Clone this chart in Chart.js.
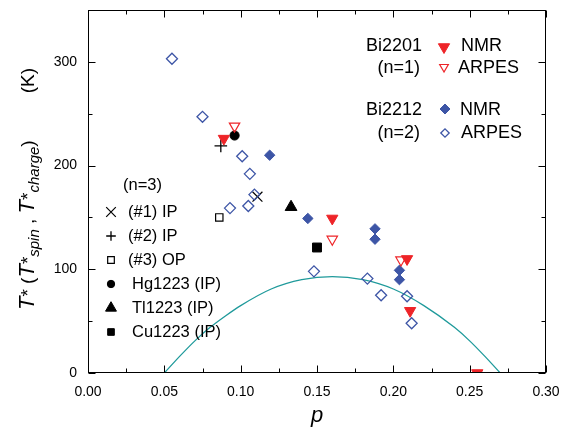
<!DOCTYPE html>
<html>
<head>
<meta charset="utf-8">
<script src="https://cdn.jsdelivr.net/npm/chart.js@4.4.0/dist/chart.umd.min.js"></script>
<style>
  html, body { margin: 0; padding: 0; background: #fff; }
</style>
</head>
<body>
<canvas id="myChart" width="565" height="429"></canvas>
<script>
// doping p vs pseudogap temperature T* (K)
const bi2201NmrP   = [0.089, 0.160, 0.209, 0.211, 0.255];
const bi2201NmrT   = [226, 149, 110, 60, 0];
const bi2201ArpesP = [0.096, 0.160, 0.205];
const bi2201ArpesT = [238, 129, 109];

const bi2212NmrP   = [0.119, 0.144, 0.188, 0.188, 0.204, 0.204];
const bi2212NmrT   = [210, 149, 139, 129, 99, 90];
const bi2212ArpesP = [0.055, 0.075, 0.093, 0.101, 0.105, 0.106, 0.109, 0.148, 0.183, 0.192, 0.209, 0.212];
const bi2212ArpesT = [303, 247, 159, 209, 161, 192, 172, 98, 91, 75, 74, 48];

// n=3 compounds
const ip1P = [0.111],  ip1T = [170];
const ip2P = [0.087],  ip2T = [219];
const op3P = [0.086],  op3T = [150];
const hgP  = [0.096],  hgT  = [229];
const tlP  = [0.133],  tlT  = [160];
const cuP  = [0.150],  cuT  = [121];

// Tc dome
const domeP = [0.05, 0.06, 0.07, 0.08, 0.09, 0.10, 0.12, 0.14, 0.16, 0.18, 0.20, 0.22, 0.24, 0.25, 0.26, 0.27];
const domeT = [0, 16, 31, 44, 55, 65, 81, 90, 93, 90, 81, 65, 44, 31, 16, 0];

const xTicks = [0, 0.05, 0.10, 0.15, 0.20, 0.25, 0.30];
const xMinor = [0.025, 0.075, 0.125, 0.175, 0.225, 0.275];
const yTicks = [0, 100, 200, 300];
const yMinor = [50, 150, 250];

const RED = '#ee2428';
const BLUE = '#3d55a6';
const TEAL = '#1f9a9b';

const pts = (xs, ys) => xs.map((x, i) => ({x: x, y: ys[i]}));

Chart.defaults.font.family = '"Liberation Sans", Arial, sans-serif';
Chart.defaults.color = '#000';

function marker(ctx, style, x, y, r, fill, stroke, lw, rot) {
  ctx.save();
  ctx.fillStyle = fill || 'rgba(0,0,0,0)';
  ctx.strokeStyle = stroke;
  ctx.lineWidth = lw;
  Chart.helpers.drawPoint(ctx, {pointStyle: style, radius: r, rotation: rot || 0, borderWidth: lw}, x, y);
  ctx.restore();
}

const framePlugin = {
  id: 'frame',
  afterDatasetsDraw(chart) {
    const {ctx, chartArea: a, scales: {x, y}} = chart;
    const L = Math.round(a.left) + 0.5, R = Math.round(a.right) - 0.5;
    const T = Math.round(a.top) + 0.5, B = Math.round(a.bottom) - 0.5;
    ctx.save();
    ctx.strokeStyle = '#000';
    ctx.lineWidth = 1;
    ctx.strokeRect(L, T, R - L, B - T);
    ctx.beginPath();
    const xt = (v, len) => {
      const px = Math.round(x.getPixelForValue(v)) + 0.5;
      ctx.moveTo(px, B); ctx.lineTo(px, B - len);
      ctx.moveTo(px, T); ctx.lineTo(px, T + len);
    };
    const yt = (v, len) => {
      const py = Math.round(y.getPixelForValue(v)) + 0.5;
      ctx.moveTo(L, py); ctx.lineTo(L + len, py);
      ctx.moveTo(R, py); ctx.lineTo(R - len, py);
    };
    xTicks.forEach(v => xt(v, 7));
    xMinor.forEach(v => xt(v, 4));
    yTicks.forEach(v => yt(v, 7));
    yMinor.forEach(v => yt(v, 4));
    ctx.stroke();
    ctx.restore();
  },
  afterDraw(chart) {
    const ctx = chart.ctx;
    ctx.save();
    ctx.fillStyle = '#000';
    ctx.textBaseline = 'middle';

    // Bi2201 / Bi2212 key
    ctx.font = '18px "Liberation Sans", Arial, sans-serif';
    ctx.textAlign = 'right';
    ctx.fillText('Bi2201', 422, 46);
    ctx.fillText('(n=1)', 420, 68);
    ctx.fillText('Bi2212', 422, 110);
    ctx.fillText('(n=2)', 420, 133);
    ctx.textAlign = 'left';
    ctx.fillText('NMR', 461, 46);
    ctx.fillText('ARPES', 458, 68);
    ctx.fillText('NMR', 460, 110);
    ctx.fillText('ARPES', 461, 133);
    marker(ctx, 'triangle', 444, 47, 6.5, RED, RED, 1, 180);
    marker(ctx, 'triangle', 444, 67, 5, null, RED, 1.2, 180);
    marker(ctx, 'rectRot', 445, 109, 5, BLUE, BLUE, 1);
    marker(ctx, 'rectRot', 445, 133, 4.2, null, BLUE, 1.3);

    // n=3 key
    ctx.font = '16.5px "Liberation Sans", Arial, sans-serif';
    ctx.fillText('(n=3)', 123, 185);
    const rows = [
      ['(#1) IP', 128, 'crossRot', 6.8, null, 1.2],
      ['(#2) IP', 128, 'cross', 4.8, null, 1.3],
      ['(#3) OP', 128, 'rect', 4.7, null, 1.2],
      ['Hg1223 (IP)', 132, 'circle', 3.7, '#000', 1],
      ['Tl1223 (IP)', 132, 'triangle', 6.3, '#000', 1],
      ['Cu1223 (IP)', 132, 'rect', 4.7, '#000', 1]
    ];
    rows.forEach((r, i) => {
      const yy = 212 + i * 24;
      ctx.fillText(r[0], r[1], yy);
      marker(ctx, r[2], 111, yy, r[3], r[4], '#000', r[5]);
    });

    // axis titles
    ctx.font = 'italic 22px "Liberation Sans", Arial, sans-serif';
    ctx.textAlign = 'center';
    ctx.textBaseline = 'alphabetic';
    const ca = chart.chartArea;
    ctx.fillText('p', (ca.left + ca.right) / 2, 422);

    ctx.translate(33.5, 310);
    ctx.rotate(-Math.PI / 2);
    ctx.textAlign = 'left';
    const big = 'italic 22px "Liberation Sans", Arial, sans-serif';
    const reg = '19px "Liberation Sans", Arial, sans-serif';
    const sub = 'italic 15px "Liberation Sans", Arial, sans-serif';
    const segs = [
      ['T', big, 0], ['*', reg, 0], [' (', reg, 0],
      ['T', big, 0], ['*', reg, 0], ['spin', sub, 5], [' , ', reg, 0],
      ['T', big, 0], ['*', reg, 0], ['charge', sub, 5], [')', reg, 0]
    ];
    let cx = 0;
    segs.forEach(s => {
      ctx.font = s[1];
      ctx.fillText(s[0], cx, s[2]);
      cx += ctx.measureText(s[0]).width;
    });
    ctx.font = reg;
    ctx.textAlign = 'right';
    ctx.fillText('(K)', 242, 0);
    ctx.restore();
  }
};

new Chart(document.getElementById('myChart'), {
  type: 'scatter',
  data: {
    datasets: [
      {
        label: 'Bi2201 NMR', data: pts(bi2201NmrP, bi2201NmrT),
        pointStyle: 'triangle', rotation: 180, pointRadius: 6.5,
        backgroundColor: RED, borderColor: RED, borderWidth: 1, clip: 0, order: 1
      }, {
        label: 'Bi2201 ARPES', data: pts(bi2201ArpesP, bi2201ArpesT),
        pointStyle: 'triangle', rotation: 180, pointRadius: 6,
        backgroundColor: 'rgba(0,0,0,0)', borderColor: RED, borderWidth: 1.2, clip: 0, order: 1
      }, {
        label: 'Bi2212 NMR', data: pts(bi2212NmrP, bi2212NmrT),
        pointStyle: 'rectRot', pointRadius: 5.2,
        backgroundColor: BLUE, borderColor: BLUE, borderWidth: 1, clip: 0, order: 1
      }, {
        label: 'Bi2212 ARPES', data: pts(bi2212ArpesP, bi2212ArpesT),
        pointStyle: 'rectRot', pointRadius: 5.5,
        backgroundColor: 'rgba(0,0,0,0)', borderColor: BLUE, borderWidth: 1.3, clip: 0, order: 1
      }, {
        label: '(#1) IP', data: pts(ip1P, ip1T),
        pointStyle: 'crossRot', pointRadius: 7, borderColor: '#000', borderWidth: 1.2, clip: 0, order: 1
      }, {
        label: '(#2) IP', data: pts(ip2P, ip2T),
        pointStyle: 'cross', pointRadius: 6.3, borderColor: '#000', borderWidth: 1.3, clip: 0, order: 1
      }, {
        label: '(#3) OP', data: pts(op3P, op3T),
        pointStyle: 'rect', pointRadius: 5.2,
        backgroundColor: 'rgba(0,0,0,0)', borderColor: '#000', borderWidth: 1.2, clip: 0, order: 1
      }, {
        label: 'Hg1223 (IP)', data: pts(hgP, hgT),
        pointStyle: 'circle', pointRadius: 4.6,
        backgroundColor: '#000', borderColor: '#000', borderWidth: 1, clip: 0, order: 1
      }, {
        label: 'Tl1223 (IP)', data: pts(tlP, tlT),
        pointStyle: 'triangle', pointRadius: 6.8,
        backgroundColor: '#000', borderColor: '#000', borderWidth: 1, clip: 0, order: 1
      }, {
        label: 'Cu1223 (IP)', data: pts(cuP, cuT),
        pointStyle: 'rect', pointRadius: 6.3,
        backgroundColor: '#000', borderColor: '#000', borderWidth: 1, clip: 0, order: 1
      }, {
        label: 'Tc', data: pts(domeP, domeT),
        showLine: true, pointRadius: 0, borderColor: TEAL, borderWidth: 1.3,
        cubicInterpolationMode: 'monotone', clip: 0, order: 10
      }
    ]
  },
  options: {
    responsive: false,
    animation: false,
    events: [],
    layout: { padding: { top: 10, right: 19, left: 0, bottom: 0 } },
    plugins: { legend: { display: false }, tooltip: { enabled: false } },
    scales: {
      x: {
        type: 'linear', min: 0, max: 0.30,
        grid: { display: false, drawTicks: false },
        border: { display: false },
        afterBuildTicks: s => { s.ticks = xTicks.map(v => ({value: v})); },
        afterFit: s => { s.height = 56; s.paddingLeft = 0; s.paddingRight = 0; },
        ticks: {
          padding: 11, maxRotation: 0, autoSkip: false,
          font: { size: 14 },
          callback: v => v.toFixed(2)
        }
      },
      y: {
        type: 'linear', min: 0, max: 350,
        grid: { display: false, drawTicks: false },
        border: { display: false },
        afterBuildTicks: s => { s.ticks = yTicks.map(v => ({value: v})); },
        afterFit: s => { s.width = 88; s.paddingTop = 0; s.paddingBottom = 0; },
        ticks: {
          padding: 11,
          font: { size: 14 },
          callback: v => String(v)
        }
      }
    }
  },
  plugins: [framePlugin]
});
</script>
</body>
</html>
